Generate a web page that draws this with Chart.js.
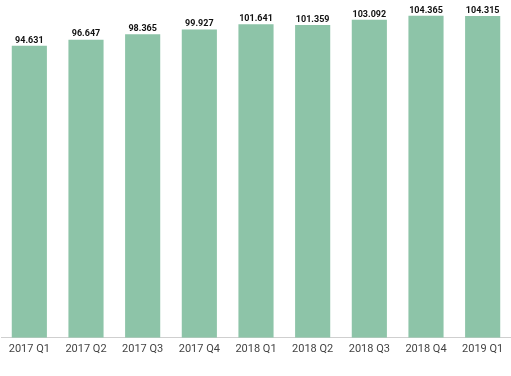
<!DOCTYPE html>
<html lang="en">
<head>
    <meta charset="UTF-8">
    <title>Quarterly</title>
    <script src="https://cdn.jsdelivr.net/npm/chart.js"></script>
    <style>
        body { margin: 0; background: #fff; }
    </style>
</head>
<body>
    <canvas id="qChart" width="511" height="376"></canvas>
    <script>
        const quarters = ['2017 Q1', '2017 Q2', '2017 Q3', '2017 Q4', '2018 Q1', '2018 Q2', '2018 Q3', '2018 Q4', '2019 Q1'];
        const values = [94.631, 96.647, 98.365, 99.927, 101.641, 101.359, 103.092, 104.365, 104.315];

        // draw the value above each bar
        const valueLabels = {
            id: 'valueLabels',
            afterDatasetsDraw(chart) {
                const ctx = chart.ctx;
                const meta = chart.getDatasetMeta(0);
                ctx.save();
                ctx.font = 'bold 9px Roboto';
                ctx.fillStyle = '#111';
                ctx.textAlign = 'center';
                ctx.textBaseline = 'bottom';
                meta.data.forEach((bar, i) => {
                    ctx.fillText(values[i].toFixed(3), bar.x, bar.y - 1);
                });
                ctx.restore();
            }
        };

        const ctx = document.getElementById('qChart').getContext('2d');
        new Chart(ctx, {
            type: 'bar',
            data: {
                labels: quarters,
                datasets: [{
                    data: values,
                    backgroundColor: '#8dc4a8',
                    borderWidth: 0,
                    categoryPercentage: 0.62,
                    barPercentage: 1
                }]
            },
            options: {
                responsive: false,
                animation: false,
                layout: { padding: { left: 1, right: 0, top: 0, bottom: 15 } },
                plugins: {
                    legend: { display: false },
                    tooltip: { enabled: false }
                },
                scales: {
                    x: {
                        grid: { display: false, drawTicks: false },
                        border: { display: true, color: '#cfcfcf', width: 1 },
                        ticks: {
                            color: '#444',
                            padding: 5,
                            font: { family: 'Roboto', size: 11 }
                        }
                    },
                    y: {
                        display: false,
                        min: 0,
                        max: 109.5
                    }
                }
            },
            plugins: [valueLabels]
        });
    </script>
</body>
</html>
